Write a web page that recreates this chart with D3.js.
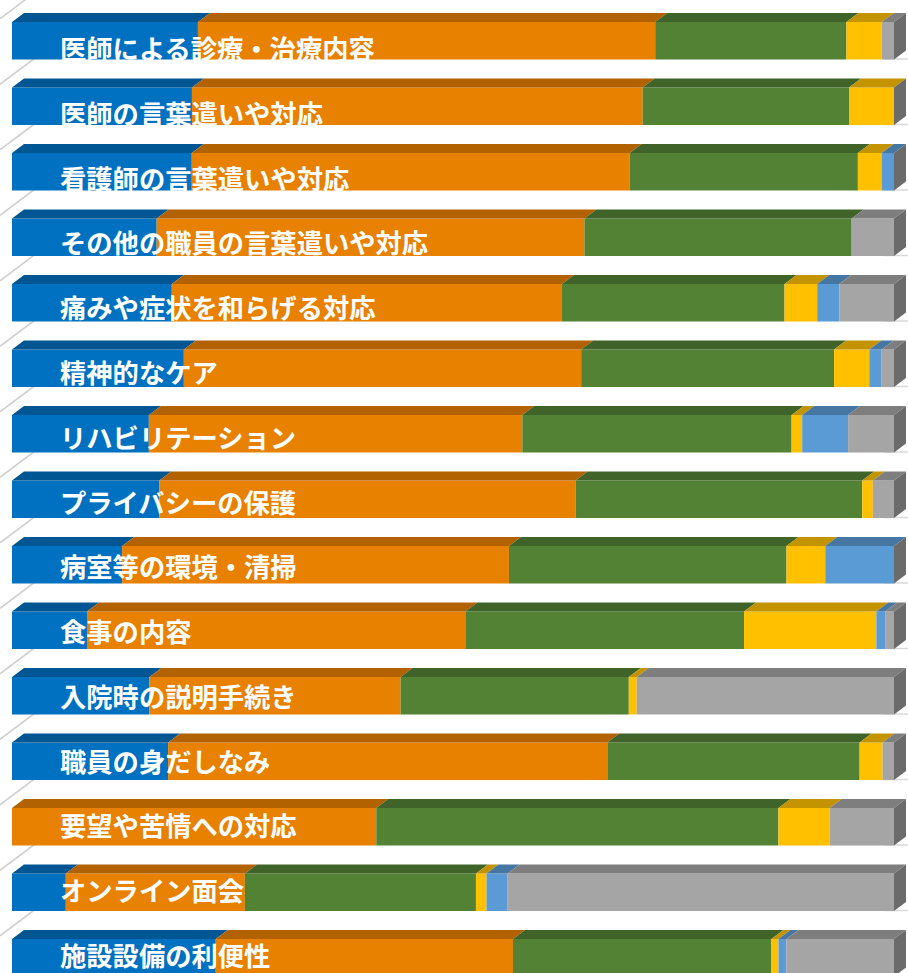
<!DOCTYPE html>
<html>
<head>
<meta charset="utf-8">
<script src="https://cdn.jsdelivr.net/npm/d3@7"></script>
<style>
  html, body { margin: 0; padding: 0; background: #ffffff; }
  svg { display: block; }
</style>
</head>
<body>
<svg id="chart" width="908" height="973"></svg>
<script>
// ---------------- data ----------------
const categories = [
  "医師による診療・治療内容",
  "医師の言葉遣いや対応",
  "看護師の言葉遣いや対応",
  "その他の職員の言葉遣いや対応",
  "痛みや症状を和らげる対応",
  "精神的なケア",
  "リハビリテーション",
  "プライバシーの保護",
  "病室等の環境・清掃",
  "食事の内容",
  "入院時の説明手続き",
  "職員の身だしなみ",
  "要望や苦情への対応",
  "オンライン面会",
  "施設設備の利便性"
];
const seriesKeys = ["s1", "s2", "s3", "s4", "s5", "s6"];
const series1 = [21.1, 20.4, 20.4, 16.4, 18.1, 19.5, 15.5, 16.7, 12.5,  8.5, 15.6, 17.7,  0.0,  6.1, 23.1];
const series2 = [51.9, 51.1, 49.7, 48.5, 44.2, 45.1, 42.3, 47.2, 43.9, 42.9, 28.5, 49.8, 41.3, 20.3, 33.7];
const series3 = [21.7, 23.4, 25.9, 30.3, 25.2, 28.7, 30.5, 32.5, 31.5, 31.6, 25.9, 28.6, 45.6, 26.2, 29.3];
const series4 = [ 4.0,  5.1,  2.7,  0.0,  3.7,  4.0,  1.2,  1.2,  4.4, 15.0,  0.9,  2.6,  5.8,  1.2,  0.8];
const series5 = [ 0.0,  0.0,  1.4,  0.0,  2.5,  1.4,  5.2,  0.0,  7.8,  1.0,  0.0,  0.0,  0.0,  2.4,  0.9];
const series6 = [ 1.4,  0.0,  0.0,  4.8,  6.2,  1.4,  5.2,  2.4,  0.0,  1.0, 29.2,  1.3,  7.3, 43.8, 12.2];

// ---------------- styles ----------------
const frontColors = ["#0070C0", "#E88000", "#548235", "#FFC000", "#5B9BD5", "#A5A5A5"];
const sideColor = "#6B6B6B";
const depthX = 12, depthY = 9;

const rows = categories.map((c, i) => ({
  cat: c,
  s1: series1[i], s2: series2[i], s3: series3[i],
  s4: series4[i], s5: series5[i], s6: series6[i]
}));

const stack = d3.stack().keys(seriesKeys).offset(d3.stackOffsetExpand);
const stacked = stack(rows);

const svg = d3.select("#chart");

const x = d3.scaleLinear().domain([0, 1]).range([12, 894]);
const y = d3.scaleBand().domain(categories)
  .range([22, 22 + 65.5 * 14.5725])
  .paddingInner(0.4275).paddingOuter(0);
const labelY = d3.scalePoint().domain(categories).range([59, 966]);

const color = d3.scaleOrdinal().domain(seriesKeys).range(frontColors);
const topColor = k => d3.color(color(k)).darker(0.75).formatHex();

// left diagonal gridlines & right base lines (behind bars)
const grid = svg.append("g");
const baseYs = [y(categories[0]) - y.step() + y.bandwidth()]
  .concat(categories.map(c => y(c) + y.bandwidth()));
const slope = depthY / depthX;
grid.selectAll("line.diag").data(baseYs).join("line")
  .attr("class", "diag")
  .attr("x1", 0).attr("y1", d => d + 33 * slope)
  .attr("x2", 46).attr("y2", d => d - 13 * slope)
  .attr("stroke", "#d0d0d0").attr("stroke-width", 1.6);
grid.selectAll("line.base").data(baseYs.slice(1)).join("line")
  .attr("class", "base")
  .attr("x1", x(1) - 10).attr("x2", 908)
  .attr("y1", d => d - 0.5).attr("y2", d => d - 0.5)
  .attr("stroke", "#d9d9d9").attr("stroke-width", 1.5);

// bars
const bars = svg.append("g");
stacked.forEach(layer => {
  const k = layer.key;
  const segs = layer.filter(d => d[1] - d[0] > 1e-6);
  const g = bars.append("g");
  // front faces
  g.selectAll("rect").data(segs).join("rect")
    .attr("x", d => x(d[0]))
    .attr("y", d => y(d.data.cat))
    .attr("width", d => x(d[1]) - x(d[0]))
    .attr("height", y.bandwidth())
    .attr("fill", color(k));
  // top faces
  g.selectAll("path.top").data(segs).join("path")
    .attr("class", "top")
    .attr("d", d => {
      const x0 = x(d[0]), x1 = x(d[1]), yt = y(d.data.cat);
      return `M${x0},${yt}L${x1},${yt}L${x1 + depthX},${yt - depthY}L${x0 + depthX},${yt - depthY}Z`;
    })
    .attr("fill", topColor(k));
});

// right side faces
bars.selectAll("path.side").data(categories).join("path")
  .attr("class", "side")
  .attr("d", c => {
    const xr = x(1), yt = y(c), yb = y(c) + y.bandwidth();
    return `M${xr},${yt}L${xr + depthX},${yt - depthY}L${xr + depthX},${yb - depthY}L${xr},${yb}Z`;
  })
  .attr("fill", sideColor);

// labels
svg.append("g").selectAll("text").data(categories).join("text")
  .attr("x", 60)
  .attr("y", c => labelY(c))
  .attr("fill", "#ffffff")
  .attr("font-family", "'Noto Sans CJK JP', 'Noto Sans', sans-serif")
  .attr("font-weight", 700)
  .attr("font-size", 26.3)
  .text(c => c);
</script>
</body>
</html>
